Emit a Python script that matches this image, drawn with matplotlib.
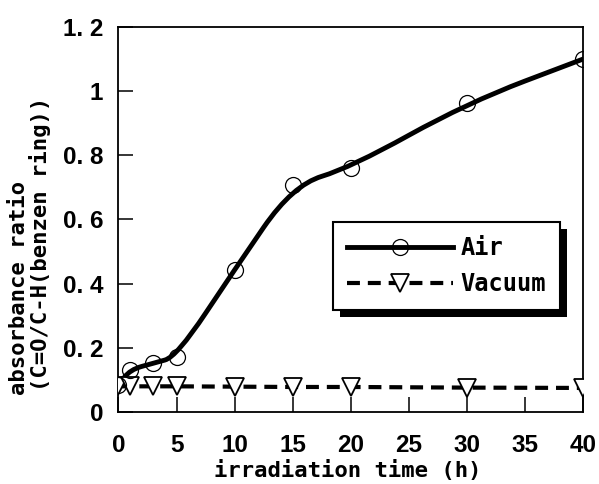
import numpy as np
import matplotlib
matplotlib.use("Agg")
import matplotlib.pyplot as plt
from matplotlib.path import Path
from matplotlib.patches import PathPatch, Rectangle
from matplotlib.lines import Line2D
from matplotlib.transforms import IdentityTransform

# values
time_air = [0, 1, 3, 5, 10, 15, 20, 30, 40]
ratio_air = [0.084, 0.132, 0.152, 0.172, 0.444, 0.707, 0.762, 0.963, 1.10]
time_vac = [0, 1, 3, 5, 10, 15, 20, 30, 40]
ratio_vac = [0.08, 0.08, 0.08, 0.08, 0.079, 0.078, 0.078, 0.076, 0.075]

xticks = [0, 5, 10, 15, 20, 25, 30, 35, 40]
xtick_labels = ["0", "5", "10", "15", "20", "25", "30", "35", "40"]
yticks = [0, 0.2, 0.4, 0.6, 0.8, 1.0, 1.2]
ytick_labels = ["0", "0. 2", "0. 4", "0. 6", "0. 8", "1", "1. 2"]

MONO = "DejaVu Sans Mono"


def smooth_path(x, y):
    # quadratic b-spline with the data points as control polygon
    # (the original curve is a smoothed one, it does not hit every point)
    p = np.column_stack([x, y]).astype(float)
    mids = (p[:-1] + p[1:]) / 2
    verts = [tuple(mids[0])]
    codes = [Path.MOVETO]
    for i in range(1, len(p) - 1):
        verts += [tuple(p[i]), tuple(mids[i])]
        codes += [Path.CURVE3, Path.CURVE3]
    verts.append(tuple(p[-1]))
    codes.append(Path.LINETO)
    return Path(verts, codes)


plt.rcParams["font.family"] = ["Liberation Sans", "DejaVu Sans"]
plt.rcParams["font.weight"] = "bold"

fig = plt.figure(figsize=(5.99, 4.84), dpi=100)
ax = fig.add_axes([118.5 / 599, 1 - 412 / 484, (583 - 118.5) / 599, (412 - 27) / 484])

# Air: smooth solid curve + open circles
ax.add_patch(PathPatch(smooth_path(time_air, ratio_air), facecolor="none",
                       edgecolor="black", lw=3.5, capstyle="round", zorder=3))
ax.plot(time_air, ratio_air, linestyle="none", marker="o", ms=11.5,
        mfc="none", mec="black", mew=0.9, zorder=4)

# Vacuum: dashed line + open down triangles
ax.plot(time_vac, ratio_vac, color="black", lw=3, dashes=(3.1, 1.9),
        marker="v", ms=13, mfc="white", mec="black", mew=1.3, zorder=3)

ax.set_xlim(0, 40)
ax.set_ylim(0, 1.2)
ax.set_xticks(xticks)
ax.set_xticklabels(xtick_labels)
ax.set_yticks(yticks)
ax.set_yticklabels(ytick_labels)
ax.tick_params(direction="in", length=11, width=1.1, labelsize=17.5,
               top=False, right=False)
ax.tick_params(axis="x", pad=16)
ax.tick_params(axis="y", pad=11)
for sp in ax.spines.values():
    sp.set_linewidth(1.3)

fig.text(347.5 / 599, 1 - 471 / 484, "irradiation time (h)", ha="center",
         va="center", family=MONO, weight="bold", size=16)
fig.text(19 / 599, 1 - 288 / 484, "absorbance ratio", rotation=90,
         ha="center", va="center", family=MONO, weight="bold", size=16)
fig.text(40 / 599, 1 - 244 / 484, "(C=O/C-H(benzen ring))", rotation=90,
         ha="center", va="center", family=MONO, weight="bold", size=16)

h_air = Line2D([], [], color="black", lw=3.5, marker="o", ms=11.5,
               mfc="none", mec="black", mew=0.9)
h_vac = Line2D([], [], color="black", lw=3, dashes=(3.1, 1.9), marker="v",
               ms=13, mfc="white", mec="black", mew=1.3)
leg = ax.legend([h_air, h_vac], ["Air", "Vacuum"], loc="upper left",
                bbox_to_anchor=(333 / 599, 1 - 222 / 484),
                bbox_transform=fig.transFigure,
                prop=dict(family=MONO, weight="bold", size=17),
                fancybox=False, edgecolor="black", framealpha=1,
                handlelength=4.5, handletextpad=0.3, borderpad=0.6,
                labelspacing=0.5, borderaxespad=0, numpoints=1)
leg.get_frame().set_linewidth(1.5)

# solid black drop shadow under the legend box
fig.canvas.draw()
bb = leg.get_window_extent()
shadow = Rectangle((bb.x0 + 7, bb.y0 - 7), bb.width, bb.height,
                   transform=IdentityTransform(), facecolor="black",
                   edgecolor="none", zorder=4.9)
ax.add_artist(shadow)

fig.savefig("out.png", dpi=100)
